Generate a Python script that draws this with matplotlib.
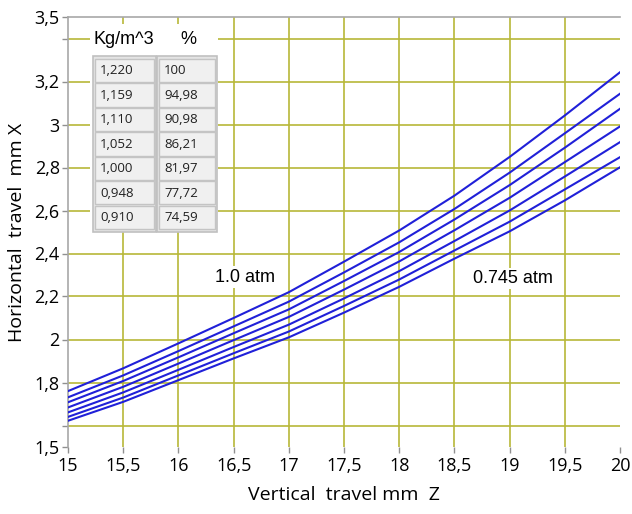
import numpy as np
import matplotlib.pyplot as plt
from matplotlib.patches import Rectangle

# vertical travel (mm Z)
x_mm = [15, 15.5, 16, 16.5, 17, 17.5, 18, 18.5, 19, 19.5, 20]

# horizontal travel (mm X), one curve per air density
h_1220 = [1.760, 1.866, 1.982, 2.100, 2.220, 2.362, 2.507, 2.669, 2.849, 3.042, 3.243]
h_1159 = [1.731, 1.833, 1.946, 2.061, 2.176, 2.312, 2.452, 2.607, 2.776, 2.959, 3.143]
h_1110 = [1.708, 1.807, 1.917, 2.029, 2.140, 2.272, 2.407, 2.558, 2.718, 2.892, 3.073]
h_1052 = [1.684, 1.780, 1.888, 1.997, 2.105, 2.232, 2.363, 2.508, 2.659, 2.825, 2.991]
h_1000 = [1.661, 1.754, 1.859, 1.965, 2.069, 2.191, 2.318, 2.458, 2.600, 2.758, 2.918]
h_0948 = [1.640, 1.730, 1.833, 1.936, 2.037, 2.156, 2.279, 2.414, 2.548, 2.698, 2.848]
h_0910 = [1.622, 1.710, 1.811, 1.912, 2.010, 2.125, 2.245, 2.376, 2.503, 2.647, 2.801]
curves = [h_1220, h_1159, h_1110, h_1052, h_1000, h_0948, h_0910]

density = ['1,220', '1,159', '1,110', '1,052', '1,000', '0,948', '0,910']
percent = ['100', '94,98', '90,98', '86,21', '81,97', '77,72', '74,59']

x_ticks = [15, 15.5, 16, 16.5, 17, 17.5, 18, 18.5, 19, 19.5, 20]
x_labels = ['15', '15,5', '16', '16,5', '17', '17,5', '18', '18,5', '19', '19,5', '20']
y_ticks = [1.5, 1.6, 1.8, 2.0, 2.2, 2.4, 2.6, 2.8, 3.0, 3.2, 3.4, 3.5]
y_labels = ['1,5', '', '1,8', '2', '2,2', '2,4', '2,6', '2,8', '3', '3,2', '', '3,5']
y_grid = [1.6, 1.8, 2.0, 2.2, 2.4, 2.6, 2.8, 3.0, 3.2, 3.4]
x_grid = [15.5, 16, 16.5, 17, 17.5, 18, 18.5, 19, 19.5]

W, H = 632, 514
grid_c = '#b8b838'
line_c = '#2020d8'
edge_c = '#a8a8a8'
ui_font = ['Open Sans', 'DejaVu Sans']
arial = ['Liberation Sans', 'DejaVu Sans']


def fx(px):
     return px / W


def fy(py):
     return 1 - py / H


fig = plt.figure(figsize=(W / 100, H / 100), dpi=100)
ax = fig.add_axes([fx(68), fy(447), fx(620) - fx(68), fy(17) - fy(447)])

for g in y_grid:
     ax.axhline(g, color=grid_c, lw=1.2, zorder=1)
for g in x_grid:
     ax.axvline(g, color=grid_c, lw=1.2, zorder=1)

for c in curves:
     ax.plot(x_mm, c, color=line_c, lw=1.5, zorder=3)

ax.set_xlim(15, 20)
ax.set_ylim(1.5, 3.5)
ax.set_xticks(x_ticks)
ax.set_xticklabels(x_labels, fontfamily=ui_font, fontsize=13)
ax.set_yticks(y_ticks)
ax.set_yticklabels(y_labels, fontfamily=ui_font, fontsize=13)
ax.tick_params(axis='both', colors='#909090', length=4, width=1, labelcolor='black')
ax.tick_params(axis='x', pad=3)
ax.tick_params(axis='y', pad=2)

for s in ['right', 'bottom']:
     ax.spines[s].set_visible(False)
for s in ['left', 'top']:
     ax.spines[s].set_color(edge_c)
     ax.spines[s].set_linewidth(1.2)

ax.set_xlabel('Vertical  travel mm  Z', fontfamily=ui_font, fontsize=14, labelpad=8)
ax.set_ylabel('Horizontal  travel  mm X', fontfamily=ui_font, fontsize=14, labelpad=6)

box = dict(facecolor='white', edgecolor='none', pad=1.5)
ax.text(16.6, 2.29, '1.0 atm', fontfamily=arial, fontsize=13, ha='center', va='center',
        bbox=box, zorder=4)
ax.text(19.03, 2.284, '0.745 atm', fontfamily=arial, fontsize=13, ha='center', va='center',
        bbox=box, zorder=4)

# density table in the upper left corner
fig.patches.append(Rectangle((fx(90), fy(232)), fx(218) - fx(90), fy(24) - fy(232),
                             transform=fig.transFigure, facecolor='white', edgecolor='none'))
fig.text(fx(124), fy(40), 'Kg/m^3', fontfamily=arial, fontsize=13, ha='center', va='center')
fig.text(fx(188), fy(40), '%', fontfamily=arial, fontsize=13, ha='center', va='center')

row_h = 24.5
top = 58
for col, (x0, x1, vals) in enumerate([(93, 156, density), (157, 217, percent)]):
     fig.patches.append(Rectangle((fx(x0), fy(top + 7 * row_h + 2)), fx(x1) - fx(x0),
                                  fy(top - 2) - fy(top + 7 * row_h + 2),
                                  transform=fig.transFigure, facecolor='#e4e4e4',
                                  edgecolor='#c0c0c0', lw=1.2))
     for i, v in enumerate(vals):
          y0 = top + i * row_h
          fig.patches.append(Rectangle((fx(x0 + 2), fy(y0 + row_h - 0.5)), fx(x1 - 2) - fx(x0 + 2),
                                       fy(y0 + 0.5) - fy(y0 + row_h - 0.5),
                                       transform=fig.transFigure, facecolor='#f0f0f0',
                                       edgecolor='#c4c4c4', lw=1))
          fig.text(fx(x0 + 7), fy(y0 + row_h / 2 + 0.5), v, fontfamily=ui_font, fontsize=9.5,
                   ha='left', va='center', color='#202020')

fig.savefig('out.png', dpi=100)
